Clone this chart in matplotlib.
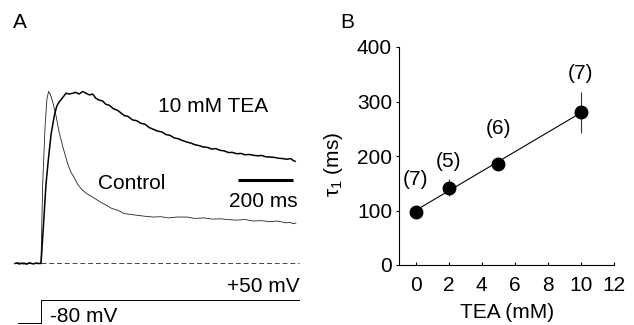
import numpy as np
import matplotlib
matplotlib.use('Agg')
import matplotlib.pyplot as plt

plt.rcParams['font.family'] = ['Liberation Sans', 'DejaVu Sans']
plt.rcParams['mathtext.fontset'] = 'custom'
plt.rcParams['mathtext.rm'] = 'Liberation Sans'
plt.rcParams['mathtext.it'] = 'Liberation Sans'
FS = 15

# panel A traces: time (ms from step onset), normalized current
t_ctrl = [-96, -85, -77, -66, -59, -48, -40, -30, -22, -12, -4, 0,
          6, 15, 22, 28, 35, 43, 55, 67, 80, 98, 110, 122, 135, 150, 165,
          180, 196, 215, 239, 260, 282, 306, 330, 355, 380, 412, 440, 470,
          500, 536, 565, 600, 630, 658, 690, 720, 750, 779, 810, 840, 870,
          900, 915, 926, 937]
i_ctrl = [0.0, 0.004, 0.002, -0.004, 0.003, 0.0, 0.004, -0.003, 0.002, -0.002, 0.0, 0.0,
          0.455, 0.80, 0.96, 1.0, 0.98, 0.94, 0.86, 0.76, 0.68, 0.58, 0.53, 0.50, 0.46, 0.43, 0.41,
          0.395, 0.38, 0.36, 0.34, 0.32, 0.31, 0.29, 0.285, 0.28, 0.275, 0.27, 0.272, 0.265,
          0.27, 0.27, 0.262, 0.265, 0.258, 0.26, 0.255, 0.252, 0.256, 0.247, 0.249, 0.243, 0.247,
          0.236, 0.24, 0.231, 0.235]

t_tea = [-96, -88, -80, -70, -62, -52, -44, -34, -26, -16, -8, 0,
         9, 18, 28, 37, 49, 58, 67, 80, 92, 104, 117, 128, 140, 153, 165,
         178, 190, 202, 214, 226, 239, 251, 266, 282, 294, 306, 320, 336,
         352, 367, 382, 398, 413, 428, 444, 459, 474, 490, 505, 520, 536,
         551, 567, 582, 597, 612, 628, 643, 658, 673, 689, 704, 719, 735,
         750, 765, 781, 796, 811, 827, 842, 857, 873, 888, 903, 918, 926, 934]
i_tea = [0.0, 0.003, -0.003, 0.002, 0.0, -0.004, 0.003, 0.0, -0.002, 0.003, 0.0, 0.0,
         0.22, 0.455, 0.62, 0.75, 0.86, 0.915, 0.94, 0.965, 0.99, 0.985, 0.99, 0.995, 0.985, 1.0, 0.99,
         0.98, 0.985, 0.96, 0.95, 0.945, 0.925, 0.92, 0.90, 0.89, 0.875, 0.86, 0.855, 0.835,
         0.83, 0.815, 0.81, 0.79, 0.78, 0.77, 0.765, 0.75, 0.745, 0.73, 0.725, 0.715, 0.706,
         0.70, 0.69, 0.685, 0.677, 0.675, 0.665, 0.668, 0.658, 0.655, 0.645, 0.646, 0.638, 0.64,
         0.632, 0.634, 0.629, 0.626, 0.628, 0.62, 0.619, 0.617, 0.612, 0.61, 0.606, 0.61, 0.60, 0.594]

# voltage protocol
step_t = [-85, 0, 0, 948]
step_v = [-80, -80, 50, 50]

# panel B data
tea_mM = [0, 2, 5, 10]
tau1 = [97, 142, 186, 280]
tau1_err = [4, 16, 5, 37]
n_cells = ['(7)', '(5)', '(6)', '(7)']
label_y = [156, 189, 251, 352]

W, H = 634, 325
fig = plt.figure(figsize=(W / 100, H / 100), dpi=100)

def px_rect(x0, y0, x1, y1):
    return [x0 / W, 1 - y1 / H, (x1 - x0) / W, (y1 - y0) / H]

# ---- panel A ----
axA = fig.add_axes(px_rect(10, 60, 310, 280))
axA.set_xlim(-114, 989)
axA.set_ylim(-0.096, 1.183)
axA.axis('off')
axA.plot(t_ctrl, i_ctrl, color='#222222', lw=0.6)
axA.plot(t_tea, i_tea, color='black', lw=1.1)
axA.plot([0, 948], [0, 0], color='#444444', lw=0.7, dashes=(5, 3))
axA.plot([725, 925], [0.484, 0.484], color='black', lw=2.2, solid_capstyle='butt')
axA.text(818, 0.358, '200 ms', fontsize=FS, ha='center', va='center')
axA.text(633, 0.91, '10 mM TEA', fontsize=FS, ha='center', va='center')
axA.text(335, 0.465, 'Control', fontsize=FS, ha='center', va='center')

axV = fig.add_axes(px_rect(10, 296, 310, 325))
axV.set_xlim(-114, 989)
axV.set_ylim(-91.3, 72.6)
axV.axis('off')
axV.plot(step_t, step_v, color='black', lw=0.7)
axV.text(952, 129, '+50 mV', fontsize=FS, ha='right', va='center')
axV.text(33, -45, '-80 mV', fontsize=FS, ha='left', va='center')

# ---- panel B ----
axB = fig.add_axes(px_rect(399, 47, 614, 265))
axB.errorbar(tea_mM, tau1, yerr=tau1_err, fmt='none', ecolor='#333333', elinewidth=0.8, capsize=0)
slope, icpt = np.polyfit(tea_mM, tau1, 1)
xf = np.array([tea_mM[0], tea_mM[-1]])
axB.plot(xf, slope * xf + icpt, color='black', lw=0.8)
axB.plot(tea_mM, tau1, 'o', color='black', ms=9)
for x, ly, s in zip(tea_mM, label_y, n_cells):
    axB.text(x, ly, s, fontsize=FS, ha='center', va='center')
axB.set_xlim(-1, 12)
axB.set_ylim(0, 400)
axB.set_xticks(range(0, 13, 2))
axB.set_yticks(range(0, 401, 100))
axB.spines[['top', 'right']].set_visible(False)
for sp in axB.spines.values():
    sp.set_linewidth(0.8)
axB.tick_params(axis='x', direction='in', length=2, width=0.8, pad=8, labelsize=FS)
axB.tick_params(axis='y', direction='out', length=2, width=0.8, pad=3, labelsize=FS)
axB.set_xlabel('TEA (mM)', fontsize=FS)
axB.set_ylabel(r'$\tau_1$ (ms)', fontsize=FS)
axB.xaxis.set_label_coords(0.502, -0.175)
axB.yaxis.set_label_coords(-0.25, 0.46)

fig.text(20 / W, 1 - 22 / H, 'A', fontsize=FS, ha='center', va='center')
fig.text(347 / W, 1 - 22 / H, 'B', fontsize=FS, ha='center', va='center')

fig.savefig('out.png', dpi=100)
